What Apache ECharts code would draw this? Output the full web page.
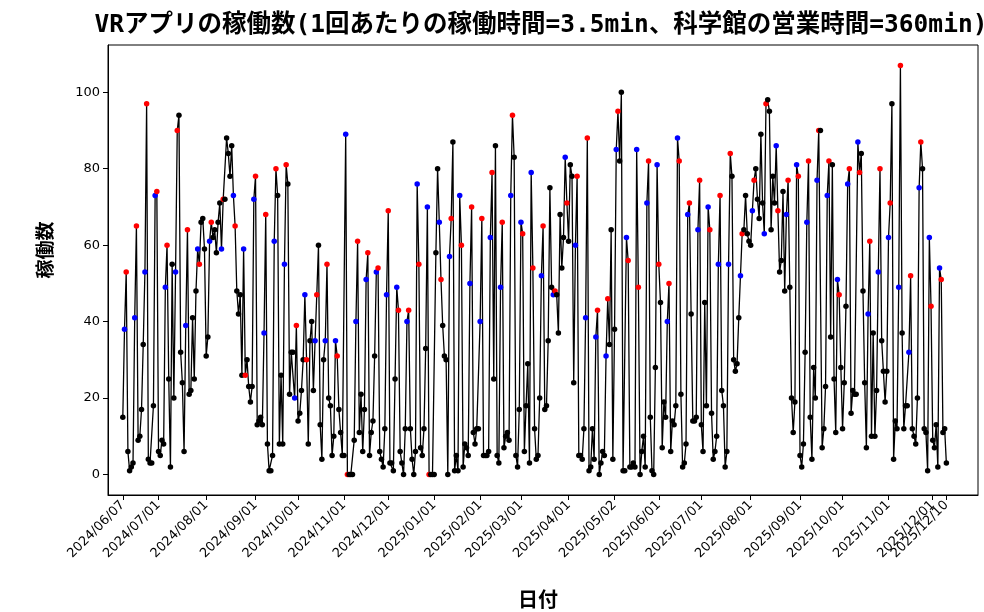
<!DOCTYPE html>
<html><head><meta charset="utf-8">
<script src="https://cdn.jsdelivr.net/npm/echarts@6/dist/echarts.min.js"></script>
<style>html,body{margin:0;padding:0;background:#fff}#c{width:984px;height:612px}</style>
</head><body><div id="c"></div>
<script>
// Daily values per month, indexed by day-of-month (null = no record that day)
const m2024_06 = [null,null,null,null,null,null,15,38,53,null,6,1,2,3,41,65,null,9,10,17,34,53,97,null,4,3,3,18,73,74];
const m2024_07 = [6,null,5,9,8,49,60,null,25,2,55,20,53,90,94,null,32,24,6,39,64,21,22,41,25,48,59,55,66,67,59];
const m2024_08 = [31,36,61,66,62,64,58,66,71,59,72,72,88,84,78,86,73,65,null,48,42,47,26,59,26,null,30,23,19,23,72];
const m2024_09 = [78,null,13,14,15,13,37,68,null,8,1,1,5,61,80,73,null,8,26,8,55,81,76,null,21,32,32,20,39,null];
const m2024_10 = [14,16,22,30,47,30,null,8,35,40,22,35,47,60,null,13,4,30,35,55,null,20,18,5,10,35,31,null,17,11,5];
const m2024_11 = [5,89,0,0,null,0,0,9,40,61,null,11,21,6,17,51,58,null,5,11,14,31,53,54,null,6,4,2,12,47];
const m2024_12 = [69,null,3,3,1,25,49,43,null,6,3,0,12,40,43,null,12,4,0,6,76,55,null,7,5,12,33,70,0,0,0];
const m2025_01 = [0,58,80,66,51,null,39,31,30,0,57,67,87,null,1,5,1,73,60,null,2,8,7,5,50,70,null,11,8,12,12];
const m2025_02 = [40,67,null,5,5,5,6,62,79,25,86,null,5,3,49,66,null,7,10,11,9,73,94,83,null,5,2,17];
const m2025_03 = [66,63,null,6,18,29,3,79,54,null,12,4,5,20,52,65,17,18,35,75,49,47,48,47,37,68,54,62,83,71,null];
const m2025_04 = [61,81,78,24,60,78,null,5,5,4,12,41,88,null,1,2,12,4,36,43,null,0,3,6,5,31,46,34,64,4];
const m2025_05 = [null,38,85,95,82,100,null,1,1,62,56,null,2,2,3,2,85,49,null,0,6,10,2,71,82,null,15,1,0,28,81];
const m2025_06 = [55,null,45,7,19,15,40,50,null,6,14,13,18,88,82,null,21,2,3,8,68,71,null,42,14,14,15,64,77,null];
const m2025_07 = [13,6,45,18,70,64,null,16,4,6,10,55,73,null,22,18,2,6,55,84,78,30,27,29,41,52,63,64,73,63,61];
const m2025_08 = [60,69,77,80,72,67,89,71,63,97,98,95,64,78,71,86,69,null,53,56,74,48,68,77,null,49,20,11,19,81,78];
const m2025_09 = [5,null,2,8,32,66,82,null,15,4,28,20,77,90,90,null,7,12,23,73,82,36,81,null,25,11,51,47,null,28];
const m2025_10 = [12,24,44,76,80,null,16,22,21,21,87,79,84,null,48,24,7,42,61,null,10,37,10,22,53,80,null,35,27,19,27];
const m2025_11 = [62,71,97,null,4,14,12,49,107,null,37,12,18,18,32,52,null,12,10,8,20,75,87,80,null,12,11,1,62,44];
const m2025_12 = [9,null,7,13,2,54,51,11,12,3];

const monthList = [
  [2024,6,m2024_06],[2024,7,m2024_07],[2024,8,m2024_08],[2024,9,m2024_09],[2024,10,m2024_10],
  [2024,11,m2024_11],[2024,12,m2024_12],[2025,1,m2025_01],[2025,2,m2025_02],[2025,3,m2025_03],
  [2025,4,m2025_04],[2025,5,m2025_05],[2025,6,m2025_06],[2025,7,m2025_07],[2025,8,m2025_08],
  [2025,9,m2025_09],[2025,10,m2025_10],[2025,11,m2025_11],[2025,12,m2025_12]
];

const titleText = 'VRアプリの稼働数(1回あたりの稼働時間=3.5min、科学館の営業時間=360min)';
const yTitle = '稼働数';
const xTitle = '日付';
const yTicks = [0,20,40,60,80,100];

// build flat series
const pad = n => (n < 10 ? '0' : '') + n;
const dates = [], values = [], dows = [], tickIdx = [], labelMap = {};
monthList.forEach(([y, m, arr]) => {
  let first = true;
  arr.forEach((v, i) => {
    if (v === null) return;
    const d = i + 1;
    const idx = values.length;
    const lab = y + '/' + pad(m) + '/' + pad(d);
    if (first) { tickIdx.push(idx); labelMap[idx] = lab; first = false; }
    dates.push(lab);
    values.push(v);
    dows.push(new Date(Date.UTC(y, m - 1, d)).getUTCDay());
  });
});
const lastIdx = values.length - 1;
const endTicks = [lastIdx];
labelMap[lastIdx] = dates[lastIdx];

const colorOf = dw => dw === 6 ? '#0000ff' : (dw === 0 ? '#ff0000' : '#000000');

const chart = echarts.init(document.getElementById('c'), null, {renderer: 'canvas'});
const GL = 108, GR = 978, GT = 45, GB = 495;
const XMIN = -8.7, XMAX = 502.6;
const lblStyle = {rotate: 45, hideOverlap: false, color: '#000', fontSize: 13, fontFamily: 'DejaVu Sans', margin: 8,
  formatter: v => labelMap[Math.round(v)] || ''};
chart.setOption({
  animation: false,
  backgroundColor: '#fff',
  grid: {left: GL, right: 984 - GR, top: GT, bottom: 612 - GB, show: true, borderColor: '#000', borderWidth: 1, containLabel: false},
  xAxis: [{
    type: 'value', min: XMIN, max: XMAX, position: 'bottom',
    axisLine: {show: true, onZero: false, lineStyle: {color: '#000', width: 1}},
    splitLine: {show: false},
    axisTick: {show: true, customValues: tickIdx, length: 5, lineStyle: {color: '#000', width: 1}},
    axisLabel: Object.assign({customValues: tickIdx}, lblStyle)
  }, {
    type: 'value', min: XMIN, max: XMAX, position: 'bottom', offset: 0,
    axisLine: {show: false, onZero: false},
    splitLine: {show: false},
    axisTick: {show: true, customValues: endTicks, length: 5, lineStyle: {color: '#000', width: 1}},
    axisLabel: Object.assign({customValues: endTicks}, lblStyle)
  }],
  yAxis: {
    type: 'value', min: -5.35, max: 112.35,
    axisLine: {show: true, onZero: false, lineStyle: {color: '#000', width: 1}},
    splitLine: {show: false},
    axisTick: {show: true, customValues: yTicks, length: 5, lineStyle: {color: '#000', width: 1}},
    axisLabel: {customValues: yTicks, color: '#000', fontSize: 13, fontFamily: 'DejaVu Sans', margin: 8}
  },
  series: [{
    type: 'line',
    xAxisIndex: 0,
    data: values.map((v, i) => [i, v]),
    symbol: 'circle', symbolSize: 5.5, showAllSymbol: true,
    lineStyle: {color: '#000', width: 1.3},
    itemStyle: {color: p => colorOf(dows[p.dataIndex]), borderWidth: 0},
    emphasis: {disabled: true},
    silent: true
  }],
  graphic: [
    {type: 'text', x: 541, y: 26, style: {text: titleText, textAlign: 'center', textVerticalAlign: 'middle',
      font: 'bold 24.5px "DejaVu Sans Mono", "Noto Sans CJK JP"', fill: '#000'}},
    {type: 'text', x: 45, y: 250, rotation: Math.PI / 2, style: {text: yTitle, textAlign: 'center', textVerticalAlign: 'middle',
      font: 'bold 19px "Noto Sans CJK JP"', fill: '#000'}},
    {type: 'text', x: 538, y: 599, style: {text: xTitle, textAlign: 'center', textVerticalAlign: 'middle',
      font: 'bold 20px "Noto Sans CJK JP"', fill: '#000'}}
  ]
});
</script>
</body></html>
